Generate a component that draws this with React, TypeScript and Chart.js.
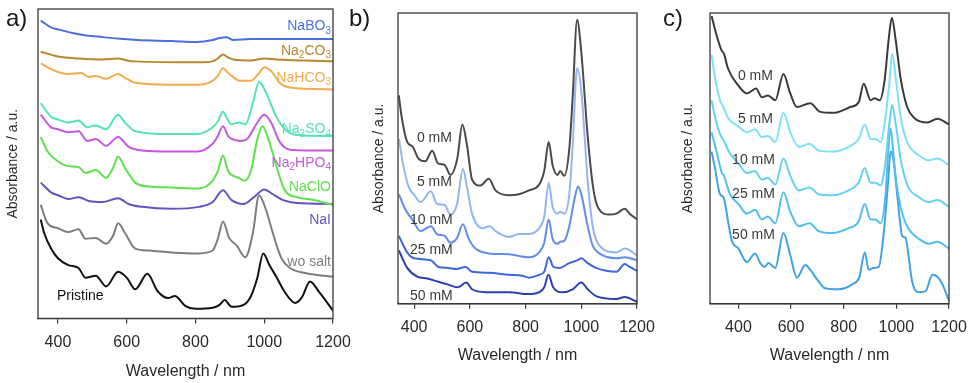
import React, { useEffect, useRef } from 'react';
import { Chart, registerables } from 'chart.js';

Chart.register(...registerables);

type Pt = [number, number];

const FAMILY = '"Liberation Sans", Arial, Helvetica, sans-serif';

// ---------- shared axis data ----------
const xTickValues = [400, 600, 800, 1000, 1200];
const xTitle = 'Wavelength / nm';
const yTitle = 'Absorbance / a.u.';

// ---------- panel a: salts ----------
const saltNames = ['NaBO3', 'Na2CO3', 'NaHCO3', 'Na2SO4', 'Na2HPO4', 'NaClO', 'NaI', 'wo salt', 'Pristine'];
const saltColors = ['#4b6fde', '#b8862b', '#f2ac4e', '#55e3b4', '#c459e0', '#5ce24a', '#6552c4', '#7d7d7d', '#111111'];
const saltLabelY = [301, 276, 248, 195, 160, 135, 101, 58, 23];

const naBO3: Pt[] = [[350, 307], [380, 300], [400, 298], [460, 293], [530, 290], [590, 288], [630, 287], [730, 286], [805, 285], [850, 287], [870, 289], [890, 290], [910, 287], [960, 288], [1020, 288], [1200, 288]];
const na2CO3: Pt[] = [[350, 275], [400, 270], [460, 268], [530, 267], [575, 268], [600, 266], [625, 265], [805, 264], [850, 265], [865, 268], [880, 272], [895, 269], [910, 267], [960, 266], [1000, 268], [1035, 267], [1200, 265]];
const naHCO3: Pt[] = [[350, 263], [380, 257], [400, 254], [430, 252], [467, 253], [490, 249], [510, 250], [540, 247], [575, 252], [595, 248], [625, 243], [725, 241], [805, 241], [850, 245], [865, 250], [880, 258], [895, 253], [905, 250], [930, 245], [960, 245], [985, 253], [1000, 259], [1020, 255], [1045, 243], [1075, 238], [1200, 236]];
const na2SO4: Pt[] = [[350, 222], [380, 208], [400, 205], [430, 202], [460, 204], [485, 197], [510, 199], [540, 195], [575, 210], [595, 202], [625, 193], [725, 190], [805, 190], [850, 197], [865, 203], [880, 213], [895, 204], [905, 200], [925, 202], [945, 200], [967, 222], [985, 244], [1005, 233], [1035, 208], [1060, 195], [1095, 189], [1200, 188]];
const na2HPO4: Pt[] = [[350, 210], [380, 197], [400, 195], [430, 192], [460, 193], [485, 183], [510, 185], [540, 178], [575, 187], [605, 177], [645, 173], [725, 172], [805, 172], [850, 180], [865, 188], [880, 198], [895, 188], [905, 185], [930, 183], [950, 185], [980, 202], [1000, 210], [1020, 202], [1045, 182], [1075, 174], [1200, 173]];
const naClO: Pt[] = [[350, 187], [370, 172], [400, 162], [430, 157], [460, 156], [480, 150], [510, 153], [540, 145], [560, 155], [575, 167], [595, 155], [625, 140], [665, 136], [730, 135], [810, 134], [850, 142], [865, 152], [880, 168], [895, 152], [905, 148], [925, 145], [943, 142], [962, 153], [980, 185], [995, 198], [1012, 185], [1037, 155], [1060, 132], [1095, 125], [1145, 122], [1200, 117]];
const naI: Pt[] = [[350, 140], [380, 130], [400, 127], [430, 123], [460, 125], [490, 121], [530, 120], [575, 124], [605, 118], [645, 115], [730, 113], [810, 115], [850, 120], [880, 132], [905, 122], [940, 118], [970, 125], [1000, 133], [1025, 128], [1055, 122], [1095, 119], [1200, 118]];
const woSalt: Pt[] = [[350, 117], [370, 98], [400, 93], [430, 89], [460, 92], [480, 82], [510, 83], [540, 77], [560, 85], [575, 98], [595, 88], [625, 72], [665, 70], [730, 68], [810, 67], [850, 70], [865, 82], [880, 100], [898, 83], [920, 75], [945, 63], [967, 88], [985, 127], [1005, 112], [1025, 88], [1050, 62], [1075, 52], [1115, 47], [1200, 43]];
const pristine: Pt[] = [[350, 102], [360, 88], [380, 72], [400, 62], [430, 55], [460, 52], [480, 42], [510, 44], [540, 33], [575, 48], [600, 42], [625, 30], [660, 46], [690, 28], [720, 21], [740, 23], [770, 13], [800, 10], [850, 11], [870, 14], [885, 19], [905, 12], [940, 14], [960, 22], [980, 42], [997, 67], [1015, 55], [1035, 43], [1060, 27], [1090, 16], [1110, 22], [1133, 38], [1160, 27], [1200, 8]];
const saltSeries = [naBO3, na2CO3, naHCO3, na2SO4, na2HPO4, naClO, naI, woSalt, pristine];

// ---------- panel b ----------
const concNames = ['0 mM', '5 mM', '10 mM', '25 mM', '50 mM'];
const bColors = ['#4a4a4a', '#92b6f2', '#5f8de9', '#3f66dc', '#2b3fae'];
const bLabelX = [410, 410, 385, 385, 385];
const bLabelY = [171, 125, 86, 55, 8];
const b0: Pt[] = [[345, 215], [355, 193], [375, 167], [395, 162], [415, 150], [440, 147], [465, 158], [485, 145], [510, 143], [530, 133], [555, 150], [573, 185], [590, 163], [608, 128], [638, 122], [668, 129], [692, 117], [740, 112], [776, 113], [812, 117], [849, 123], [867, 137], [883, 167], [897, 143], [915, 133], [924, 137], [939, 132], [957, 160], [969, 213], [985, 293], [999, 263], [1023, 173], [1041, 123], [1059, 100], [1101, 92], [1126, 93], [1156, 98], [1174, 93], [1200, 87]];
const b5: Pt[] = [[345, 170], [363, 140], [381, 120], [399, 113], [423, 105], [460, 116], [482, 103], [510, 102], [530, 92], [554, 103], [575, 139], [590, 120], [608, 93], [644, 78], [671, 80], [692, 75], [740, 69], [776, 72], [812, 72], [849, 78], [867, 90], [883, 125], [897, 100], [915, 93], [924, 95], [939, 93], [957, 113], [969, 163], [985, 243], [1000, 220], [1023, 127], [1041, 80], [1065, 60], [1126, 53], [1156, 57], [1200, 50]];
const b10: Pt[] = [[345, 113], [369, 97], [393, 87], [423, 75], [460, 80], [482, 72], [510, 70], [530, 63], [554, 68], [575, 82], [596, 67], [620, 57], [668, 52], [740, 51], [812, 48], [849, 53], [867, 63], [883, 87], [897, 67], [915, 62], [924, 64], [939, 65], [957, 80], [975, 107], [988, 121], [1000, 113], [1023, 80], [1041, 60], [1065, 52], [1126, 47], [1156, 48], [1200, 45]];
const b25: Pt[] = [[345, 70], [375, 53], [399, 47], [460, 45], [487, 38], [523, 37], [550, 36], [585, 38], [608, 33], [668, 32], [740, 30], [788, 29], [812, 27], [849, 30], [867, 33], [883, 48], [900, 38], [921, 37], [957, 42], [987, 45], [1000, 47], [1023, 42], [1053, 37], [1126, 33], [1156, 41], [1174, 38], [1200, 34]];
const b50: Pt[] = [[345, 55], [375, 37], [411, 28], [447, 26], [484, 23], [520, 20], [556, 17], [587, 22], [608, 15], [657, 12], [740, 12], [812, 10], [849, 12], [867, 17], [882, 30], [899, 17], [933, 12], [969, 15], [1000, 22], [1023, 15], [1053, 8], [1126, 5], [1156, 7], [1200, 2]];
const bSeries = [b0, b5, b10, b25, b50];

// ---------- panel c ----------
const cColors = ['#3a3a3a', '#7fe0f7', '#66d2f2', '#52bdf0', '#42a2e6'];
const cLabelX = [398, 398, 376, 376, 376];
const cLabelY = [235, 190, 148, 113, 71];
const c0: Pt[] = [[298, 297], [317, 277], [335, 262], [345, 258], [360, 243], [400, 225], [432, 217], [467, 222], [489, 213], [512, 215], [540, 210], [571, 237], [597, 217], [622, 203], [673, 207], [711, 198], [762, 197], [825, 203], [857, 208], [876, 227], [902, 210], [917, 212], [937, 210], [955, 230], [971, 273], [983, 295], [997, 273], [1016, 233], [1041, 203], [1067, 192], [1117, 187], [1156, 191], [1200, 185]];
const c5: Pt[] = [[298, 257], [312, 232], [330, 210], [343, 203], [360, 192], [400, 183], [432, 177], [463, 180], [489, 172], [512, 173], [540, 167], [571, 197], [597, 177], [629, 162], [670, 165], [705, 158], [756, 157], [819, 162], [857, 170], [880, 185], [902, 170], [921, 170], [940, 167], [959, 193], [974, 230], [984, 258], [999, 230], [1016, 193], [1041, 167], [1086, 153], [1124, 148], [1156, 150], [1200, 143]];
const c10: Pt[] = [[298, 210], [312, 192], [330, 175], [345, 168], [368, 155], [400, 145], [432, 135], [463, 137], [489, 128], [512, 130], [540, 123], [571, 150], [597, 132], [629, 117], [670, 120], [705, 113], [756, 112], [819, 117], [857, 125], [880, 140], [902, 125], [921, 125], [940, 122], [959, 147], [971, 180], [984, 205], [999, 183], [1016, 150], [1041, 123], [1086, 110], [1124, 105], [1156, 107], [1200, 100]];
const c25: Pt[] = [[298, 177], [317, 157], [337, 135], [345, 132], [368, 113], [400, 103], [432, 93], [463, 97], [489, 87], [512, 90], [540, 83], [571, 115], [597, 95], [629, 80], [670, 83], [705, 75], [756, 73], [819, 78], [857, 85], [880, 103], [902, 87], [921, 87], [940, 83], [959, 113], [969, 157], [978, 181], [988, 157], [999, 127], [1016, 100], [1041, 80], [1086, 67], [1124, 62], [1156, 64], [1200, 57]];
const c50: Pt[] = [[298, 157], [311, 140], [330, 113], [343, 110], [362, 83], [375, 65], [400, 57], [432, 43], [463, 52], [483, 42], [500, 38], [514, 42], [540, 37], [571, 73], [597, 50], [622, 27], [654, 40], [673, 35], [705, 23], [730, 16], [781, 15], [832, 20], [860, 28], [880, 53], [895, 35], [914, 37], [933, 38], [952, 73], [969, 127], [978, 157], [988, 150], [1003, 113], [1016, 80], [1022, 70], [1035, 68], [1041, 60], [1060, 23], [1086, 12], [1111, 13], [1137, 30], [1156, 28], [1175, 20], [1200, 3]];
const cSeries = [c0, c5, c10, c25, c50];

// ---------- layout specs ----------
type Label = { text: string; x: number; y: number; align: 'left' | 'right'; color: string };
type Spec = {
  letter: string; letterX: number; letterY: number;
  names: string[]; colors: string[]; series: Pt[][];
  labels: Label[]; subDigits: boolean;
  xMin: number; xMax: number; yMax: number;
  left: number; right: number; top: number;
  padLeft: number; padBottom: number; yTitlePadBottom: number;
  tickPad: number; titlePadBottom: number;
};

const CANVAS_W = 1000;
const CANVAS_H = 383;

const specA: Spec = {
  letter: 'a)', letterX: 6, letterY: 26,
  names: saltNames, colors: saltColors, series: saltSeries,
  labels: saltNames.map((n, i) => ({
    text: n,
    x: i === 8 ? 397 : 1194,
    y: saltLabelY[i],
    align: i === 8 ? 'left' : 'right',
    color: saltColors[i],
  })),
  subDigits: true,
  xMin: 342, xMax: 1200, yMax: 319,
  left: 38, right: 333, top: 9,
  padLeft: 4.3, padBottom: 0, yTitlePadBottom: 16.9,
  tickPad: 9.6, titlePadBottom: 2,
};

const specB: Spec = {
  letter: 'b)', letterX: 349, letterY: 26,
  names: concNames, colors: bColors, series: bSeries,
  labels: concNames.map((n, i) => ({ text: n, x: bLabelX[i], y: bLabelY[i], align: 'left', color: '#3a3a3a' })),
  subDigits: false,
  xMin: 342, xMax: 1200, yMax: 300,
  left: 398, right: 637, top: 13,
  padLeft: 370.3, padBottom: 17.4, yTitlePadBottom: 10.9,
  tickPad: 9.2, titlePadBottom: 0,
};

const specC: Spec = {
  letter: 'c)', letterX: 663, letterY: 26,
  names: concNames, colors: cColors, series: cSeries,
  labels: concNames.map((n, i) => ({ text: n, x: cLabelX[i], y: cLabelY[i], align: 'left', color: '#3a3a3a' })),
  subDigits: false,
  xMin: 292, xMax: 1200, yMax: 300,
  left: 710, right: 949, top: 13,
  padLeft: 679.3, padBottom: 17.4, yTitlePadBottom: 13.9,
  tickPad: 9.2, titlePadBottom: 0,
};

function drawLabel(ctx: CanvasRenderingContext2D, text: string, px: number, py: number, align: string, color: string, subDigits: boolean) {
  const runs: [string, boolean][] = [];
  let cur = '';
  let curSub = false;
  for (const ch of text) {
    const sub = subDigits && /[0-9]/.test(ch);
    if (cur && sub !== curSub) { runs.push([cur, curSub]); cur = ''; }
    cur += ch; curSub = sub;
  }
  if (cur) runs.push([cur, curSub]);
  const mainFont = `14px ${FAMILY}`;
  const subFont = `10px ${FAMILY}`;
  const widths = runs.map(([t, s]) => { ctx.font = s ? subFont : mainFont; return ctx.measureText(t).width; });
  const total = widths.reduce((a, b) => a + b, 0);
  let x = align === 'right' ? px - total : px;
  ctx.fillStyle = color;
  ctx.textAlign = 'left';
  ctx.textBaseline = 'middle';
  runs.forEach(([t, s], i) => {
    ctx.font = s ? subFont : mainFont;
    ctx.fillText(t, x, s ? py + 4.5 : py);
    x += widths[i];
  });
}

function makeDecor(spec: Spec) {
  return {
    id: 'decor' + spec.letter,
    afterDraw(chart: any) {
      const { ctx, chartArea: ca, scales } = chart;
      ctx.save();
      ctx.strokeStyle = '#3a3a3a';
      ctx.lineWidth = 1.3;
      ctx.strokeRect(ca.left, ca.top, ca.right - ca.left, ca.bottom - ca.top);
      ctx.fillStyle = '#1a1a1a';
      ctx.font = `24px ${FAMILY}`;
      ctx.textAlign = 'left';
      ctx.textBaseline = 'alphabetic';
      ctx.fillText(spec.letter, spec.letterX, spec.letterY);
      for (const lab of spec.labels) {
        drawLabel(ctx, lab.text, scales.x.getPixelForValue(lab.x), scales.y.getPixelForValue(lab.y), lab.align, lab.color, spec.subDigits);
      }
      ctx.restore();
    },
  };
}

function makeConfig(spec: Spec): any {
  return {
    type: 'line',
    data: {
      datasets: spec.series.map((pts, i) => ({
        label: spec.names[i],
        data: pts.map(([x, y]) => ({ x, y })),
        borderColor: spec.colors[i],
        backgroundColor: spec.colors[i],
        borderWidth: 2,
        pointRadius: 0,
        fill: false,
        tension: 0.4,
        cubicInterpolationMode: 'monotone',
      })),
    },
    options: {
      responsive: false,
      animation: false,
      devicePixelRatio: 1,
      events: [],
      layout: {
        padding: { left: spec.padLeft, right: CANVAS_W - spec.right, top: spec.top, bottom: spec.padBottom },
      },
      plugins: { legend: { display: false }, tooltip: { enabled: false } },
      scales: {
        x: {
          type: 'linear',
          min: spec.xMin,
          max: spec.xMax,
          afterBuildTicks: (s: any) => { s.ticks = xTickValues.map((v) => ({ value: v })); },
          grid: { display: true, drawOnChartArea: false, drawTicks: true, tickLength: 5, color: '#3a3a3a', lineWidth: 1.2 },
          border: { display: true, color: '#3a3a3a', width: 1.3 },
          ticks: {
            padding: spec.tickPad, color: '#2a2a2a', autoSkip: false, maxRotation: 0,
            font: { family: FAMILY, size: 16 },
            callback: (v: any) => String(v),
          },
          title: {
            display: true, text: xTitle, color: '#2a2a2a',
            font: { family: FAMILY, size: 16 },
            padding: { top: 0, bottom: spec.titlePadBottom },
          },
        },
        y: {
          type: 'linear',
          min: 0,
          max: spec.yMax,
          ticks: { display: false },
          grid: { display: false, drawTicks: false },
          border: { display: false },
          title: {
            display: true, text: yTitle, color: '#2a2a2a',
            font: { family: FAMILY, size: 14 },
            padding: { top: 0, bottom: spec.yTitlePadBottom },
          },
        },
      },
    },
    plugins: [makeDecor(spec)],
  };
}

function Panel({ spec }: { spec: Spec }) {
  const ref = useRef<HTMLCanvasElement>(null);
  useEffect(() => {
    const chart = new Chart(ref.current as HTMLCanvasElement, makeConfig(spec));
    return () => chart.destroy();
  }, [spec]);
  return (
    <canvas
      ref={ref}
      width={CANVAS_W}
      height={CANVAS_H}
      style={{ position: 'absolute', left: 0, top: 0, width: CANVAS_W, height: CANVAS_H }}
    />
  );
}

export default function App() {
  return (
    <div style={{ position: 'fixed', left: 0, top: 0, width: 969, height: 383, overflow: 'hidden', background: '#ffffff' }}>
      <Panel spec={specA} />
      <Panel spec={specB} />
      <Panel spec={specC} />
    </div>
  );
}
